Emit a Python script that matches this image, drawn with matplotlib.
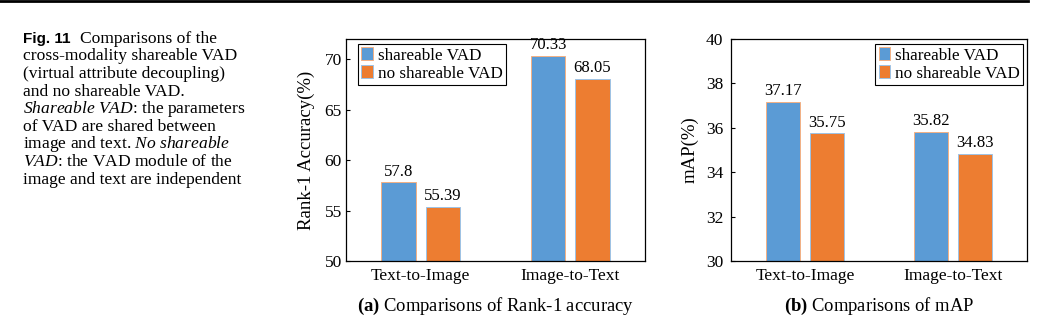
import numpy as np
import matplotlib
matplotlib.use("Agg")
import matplotlib.pyplot as plt
from matplotlib.lines import Line2D

plt.rcParams['font.family'] = 'Liberation Serif'
plt.rcParams['mathtext.fontset'] = 'custom'
plt.rcParams['mathtext.rm'] = 'Liberation Serif'
plt.rcParams['mathtext.it'] = 'Liberation Serif:italic'
plt.rcParams['mathtext.bf'] = 'Liberation Serif:bold'

# data
categories = ["Text-to-Image", "Image-to-Text"]
series_names = ["shareable VAD", "no shareable VAD"]
rank1_shareable = [57.8, 70.33]
rank1_no_shareable = [55.39, 68.05]
map_shareable = [37.17, 35.82]
map_no_shareable = [35.75, 34.83]

caption_lines = [
    "Comparisons of the",
    "cross-modality shareable VAD",
    "(virtual attribute decoupling)",
    "and no shareable VAD.",
    r"$\mathit{Shareable\ VAD}$: the parameters",
    "of VAD are shared between",
    r"image and text. $\mathit{No\ shareable}$",
    r"$\mathit{VAD}$: the VAD module of the",
    "image and text are independent",
]

blue = "#5B9BD5"
orange = "#ED7D31"
blue_edge = "#F4B183"
orange_edge = "#9DC3E6"

W, H = 1039, 333
fig = plt.figure(figsize=(W / 100, H / 100), dpi=100)

# rule at the top of the page
fig.add_artist(Line2D([0, 1028 / W], [1 - 1.3 / H, 1 - 1.3 / H], lw=2, color="black"))

# left caption
fig.text(23 / W, 1 - 42.7 / H, "Fig. 11", fontsize=11, family="Liberation Sans",
         weight="bold", ha="left", va="baseline")
for i, line in enumerate(caption_lines):
    x0 = 80 if i == 0 else 23
    fig.text(x0 / W, 1 - (42.7 + 17.6 * i) / H, line, fontsize=12.6,
             ha="left", va="baseline")


def draw_panel(rect, a_vals, b_vals, ylim, yticks, ylabel, caption, legend_loc,
               anchor, ypad, lpad):
    ax = fig.add_axes(rect)
    x = np.arange(len(categories))
    w = 0.23
    off = 0.148
    b1 = ax.bar(x - off, a_vals, w, color=blue, edgecolor=blue_edge, lw=0.7,
                label=series_names[0])
    b2 = ax.bar(x + off, b_vals, w, color=orange, edgecolor=orange_edge, lw=0.7,
                label=series_names[1])
    ax.bar_label(b1, labels=[f"{v:g}" for v in a_vals], padding=2, fontsize=12)
    ax.bar_label(b2, labels=[f"{v:g}" for v in b_vals], padding=2, fontsize=12)
    ax.set_xlim(-0.5, 1.5)
    ax.set_ylim(*ylim)
    ax.set_yticks(yticks)
    ax.set_xticks(x)
    ax.set_xticklabels(categories)
    ax.tick_params(axis="x", length=0, pad=5, labelsize=12.5)
    ax.tick_params(axis="y", direction="in", length=3, width=0.8, pad=ypad,
                   labelsize=12.5)
    ax.set_ylabel(ylabel, fontsize=13.5, labelpad=lpad)
    for s in ax.spines.values():
        s.set_linewidth(0.9)
        s.set_color("black")
    leg = ax.legend(loc=legend_loc, bbox_to_anchor=anchor, borderaxespad=0,
                    fontsize=12.3, handlelength=0.65, handleheight=0.75,
                    handletextpad=0.3, labelspacing=0.1, borderpad=0.2,
                    fancybox=False, framealpha=1, edgecolor="black")
    leg.get_frame().set_linewidth(0.8)
    cx = rect[0] + rect[2] / 2
    fig.text(cx, 1 - 306 / H, caption, fontsize=13.4, ha="center", va="center")
    return ax


ax_a = draw_panel([346 / W, 1 - 261 / H, 299 / W, 222 / H],
                  rank1_shareable, rank1_no_shareable, (50, 72),
                  [50, 55, 60, 65, 70], "Rank-1 Accuracy(%)",
                  r"$\mathbf{(a)}$ Comparisons of Rank-1 accuracy",
                  "upper left", (12 / 299, 1 - 5 / 222), 3, 7)

ax_b = draw_panel([731 / W, 1 - 261 / H, 296 / W, 222 / H],
                  map_shareable, map_no_shareable, (30, 40),
                  [30, 32, 34, 36, 38, 40], "mAP(%)",
                  r"$\mathbf{(b)}$ Comparisons of mAP",
                  "upper right", (1 - 4 / 296, 1 - 5 / 222), 5.5, 5)

fig.savefig("out.png", dpi=100)
